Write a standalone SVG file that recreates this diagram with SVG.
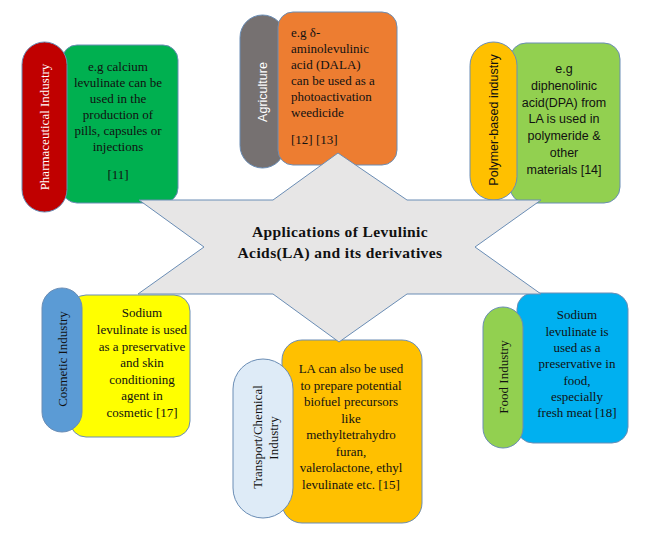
<svg xmlns="http://www.w3.org/2000/svg" width="648" height="533" viewBox="0 0 648 533">
<style>
.ol{stroke:#6a8db5;stroke-width:1}
.s{font-family:"Liberation Serif","Times New Roman",serif;font-size:13px;fill:#111}
.ss{font-family:"Liberation Sans",Arial,sans-serif;font-size:12.5px;fill:#111}
.c{text-anchor:middle}
.w{fill:#fff}
.t{font-family:"Liberation Serif","Times New Roman",serif;font-size:15.5px;font-weight:bold;fill:#111;text-anchor:middle;letter-spacing:0.4px}
</style>
<rect width="648" height="533" fill="#fff"/>
<g id="pharmaceutical">
<rect class="ol" x="62" y="45" width="116" height="158" rx="15" fill="#00b050"/>
<rect class="ol" x="22" y="42" width="45" height="170" rx="22.5" fill="#c00000"/>
<text class="s w c" transform="translate(48.5,127) rotate(-90)">Pharmaceutical  Industry</text>
<text class="s c" x="118"><tspan x="118" y="71">e.g calcium</tspan><tspan x="118" y="87">levulinate can be</tspan><tspan x="118" y="103">used in the</tspan><tspan x="118" y="119">production of</tspan><tspan x="118" y="135">pills, capsules or</tspan><tspan x="118" y="151">injections</tspan><tspan x="118" y="179">[11]</tspan></text>
</g>
<g id="agriculture">
<rect class="ol" x="240" y="15" width="45" height="153" rx="22.5" fill="#767171"/>
<rect class="ol" x="278" y="12" width="119" height="153" rx="15" fill="#ed7d31"/>
<text class="ss w c" transform="translate(266.5,92) rotate(-90)">Agriculture</text>
<text class="s"><tspan x="291" y="37"> e.g δ-</tspan><tspan x="291" y="53">aminolevulinic</tspan><tspan x="291" y="69">acid (DALA)</tspan><tspan x="291" y="85">can be used as a</tspan><tspan x="291" y="101">photoactivation</tspan><tspan x="291" y="117">weedicide</tspan><tspan x="291" y="144">[12] [13]</tspan></text>
</g>
<g id="polymer">
<rect class="ol" x="510" y="43" width="110" height="160" rx="16" fill="#92d050"/>
<rect class="ol" x="470" y="42" width="47" height="158" rx="23.5" fill="#ffc000"/>
<text class="ss c" transform="translate(497.5,120) rotate(-90)">Polymer-based  industry</text>
<text class="ss c"><tspan x="564" y="72.5">e.g</tspan><tspan x="564" y="89.5">diphenolinic</tspan><tspan x="564" y="106.5">acid(DPA) from</tspan><tspan x="564" y="123">LA is used in</tspan><tspan x="564" y="140">polymeride &amp;</tspan><tspan x="564" y="157">other</tspan><tspan x="564" y="174">materials [14]</tspan></text>
</g>
<g id="cosmetic">
<rect class="ol" x="70" y="295" width="120" height="142" rx="16" fill="#ffff00"/>
<rect class="ol" x="42" y="288" width="40" height="144" rx="20" fill="#5b9bd5"/>
<text class="s c" transform="translate(66.5,359) rotate(-90)">Cosmetic  Industry</text>
<text class="s c"><tspan x="142" y="317">Sodium</tspan><tspan x="142" y="334">levulinate is used</tspan><tspan x="142" y="350.5">as a preservative</tspan><tspan x="142" y="367">and skin</tspan><tspan x="142" y="383.5">conditioning</tspan><tspan x="142" y="400">agent in</tspan><tspan x="142" y="416.5">cosmetic [17]</tspan></text>
</g>
<g id="transport">
<rect class="ol" x="282" y="340" width="140" height="183" rx="20" fill="#ffc000"/>
<rect class="ol" x="233" y="359" width="60" height="159" rx="30" fill="#deebf7"/>
<text class="s c" transform="translate(262,437) rotate(-90)">Transport/Chemical</text>
<text class="s c" transform="translate(278,438) rotate(-90)">Industry</text>
<text class="s c"><tspan x="351" y="373">LA can also be used</tspan><tspan x="351" y="389.5">to prepare potential</tspan><tspan x="351" y="406">biofuel precursors</tspan><tspan x="351" y="422.5">like</tspan><tspan x="351" y="439">methyltetrahydro</tspan><tspan x="351" y="455.5">furan,</tspan><tspan x="351" y="472">valerolactone, ethyl</tspan><tspan x="351" y="488.5">levulinate etc. [15]</tspan></text>
</g>
<g id="food">
<rect class="ol" x="517" y="293" width="111" height="150" rx="16" fill="#00b0f0"/>
<rect class="ol" x="483" y="307" width="40" height="141" rx="20" fill="#92d050"/>
<text class="s c" transform="translate(507.5,377) rotate(-90)">Food Industry</text>
<text class="s c"><tspan x="577" y="319">Sodium</tspan><tspan x="577" y="335.5">levulinate is</tspan><tspan x="577" y="352">used as a</tspan><tspan x="577" y="368">preservative in</tspan><tspan x="577" y="384.5">food,</tspan><tspan x="577" y="401">especially</tspan><tspan x="577" y="417">fresh meat [18]</tspan></text>
</g>
<g id="center">
<polygon class="ol" fill="#e7e6e6" points="338,153 407,200 541,200 475,247 541,294 407,294 339,342 273,294 138,294 204,247 139,200 273,200"/>
<text class="t"><tspan x="340" y="237">Applications of Levulinic</tspan><tspan x="340" y="258">Acids(LA) and its derivatives</tspan></text>
</g>
<g id="connectors"/>
</svg>
